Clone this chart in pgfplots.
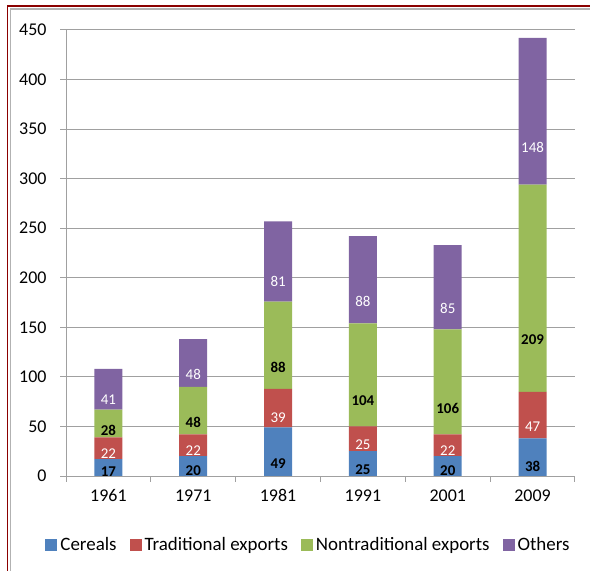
\documentclass[border=0pt]{standalone}
\usepackage{pgfplots}
\pgfplotsset{compat=1.18}
\usepackage{fontspec}
\setmainfont{Carlito}
\definecolor{cBlue}{HTML}{4F81BD}
\definecolor{cRed}{HTML}{C0504D}
\definecolor{cGreen}{HTML}{9BBB59}
\definecolor{cPurple}{HTML}{8064A2}
\definecolor{frameRed}{HTML}{8B0000}
\definecolor{gridGray}{HTML}{A0A0A0}
\begin{document}
\begin{tikzpicture}
\path[use as bounding box] (0,0) rectangle (590bp,571bp);
\draw[frameRed, line width=1.5bp] (7.5bp,0) -- (7.5bp,565bp) -- (590bp,565bp);
\draw[gray!60, line width=1.5bp] (10.5bp,0) -- (10.5bp,562bp) -- (590bp,562bp);
\begin{axis}[
  at={(66bp,95bp)}, anchor=south west,
  scale only axis, width=509bp, height=446bp,
  ybar stacked, bar width=28bp,
  xmin=-0.5, xmax=5.5, ymin=0, ymax=450,
  xtick={0,...,5}, xticklabels={1961,1971,1981,1991,2001,2009},
  minor xtick={-0.5,0.5,...,5.5},
  major x tick style={draw=none},
  ytick={0,50,...,450},
  tick align=outside, major tick length=6bp, minor tick length=6bp,
  tick style={gridGray, line width=1bp},
  axis x line*=bottom, axis y line*=left,
  axis line style={gridGray, line width=1bp},
  ymajorgrids, grid style={gridGray, line width=1bp},
  /pgf/number format/assume math mode=true,
  ticklabel style={font=\fontsize{18}{21}\selectfont},
  yticklabel style={xshift=-10bp},
  xticklabel style={yshift=-4bp},
  nodes near coords,
  visualization depends on=rawy \as \rawy,
  every node near coord/.append style={anchor=center, font=\fontsize{15}{17}\selectfont,
     yshift=-\rawy*0.24778bp},
  legend columns=4,
  legend style={draw=none, at={(242bp,-69bp)}, anchor=center, font=\fontsize{19}{22}\selectfont,
     nodes={inner xsep=1bp},
     /tikz/every even column/.append style={column sep=12bp},
     /tikz/every odd column/.append style={column sep=2bp}},
  legend image code/.code={\fill[#1] (0bp,-6bp) rectangle (12bp,6bp);},
  legend cell align=left,
]
\addplot[fill=cBlue, draw=none, every node near coord/.append style={text=black, font=\fontsize{15}{17}\selectfont\bfseries}] coordinates {(0,17) (1,20) (2,49) (3,25) (4,20) (5,38)};
\addplot[fill=cRed, draw=none, every node near coord/.append style={text=white}] coordinates {(0,22) (1,22) (2,39) (3,25) (4,22) (5,47)};
\addplot[fill=cGreen, draw=none, every node near coord/.append style={text=black, font=\fontsize{15}{17}\selectfont\bfseries}] coordinates {(0,28) (1,48) (2,88) (3,104) (4,106) (5,209)};
\addplot[fill=cPurple, draw=none, every node near coord/.append style={text=white}] coordinates {(0,41) (1,48) (2,81) (3,88) (4,85) (5,148)};
\legend{Cereals, Traditional exports, Nontraditional exports, Others}
\end{axis}
\end{tikzpicture}
\end{document}
